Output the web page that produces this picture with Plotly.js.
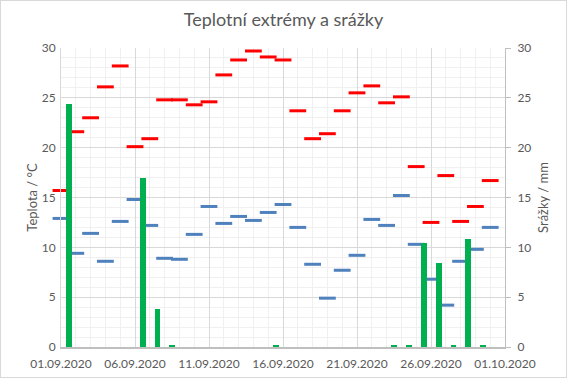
<!DOCTYPE html>
<html>
<head>
<meta charset="utf-8">
<script src="https://cdn.plot.ly/plotly-3.0.1.min.js"></script>
<style>
html,body{margin:0;padding:0;background:#fff;}
#chart{width:567px;height:378px;box-sizing:border-box;border:1px solid #d9d9d9;}
</style>
</head>
<body>
<div id="chart"></div>
<script>
const dates = ["2020-09-01","2020-09-02","2020-09-03","2020-09-04","2020-09-05","2020-09-06","2020-09-07","2020-09-08","2020-09-09","2020-09-10",
"2020-09-11","2020-09-12","2020-09-13","2020-09-14","2020-09-15","2020-09-16","2020-09-17","2020-09-18","2020-09-19","2020-09-20",
"2020-09-21","2020-09-22","2020-09-23","2020-09-24","2020-09-25","2020-09-26","2020-09-27","2020-09-28","2020-09-29","2020-09-30"];
const tMax = [15.7,21.6,23.0,26.1,28.2,20.1,20.9,24.8,24.8,24.3,24.6,27.3,28.8,29.7,29.1,28.8,23.7,20.9,21.4,23.7,25.5,26.2,24.5,25.1,18.1,12.5,17.2,12.6,14.1,16.7];
const tMin = [12.9,9.4,11.4,8.6,12.6,14.8,12.2,8.9,8.8,11.3,14.1,12.4,13.1,12.7,13.5,14.3,12.0,8.3,4.9,7.7,9.2,12.8,12.2,15.2,10.3,6.8,4.2,8.6,9.8,12.0];
const precip = [24.4,0,0,0,0,17.0,3.8,0.2,0,0,0,0,0,0,0.2,0,0,0,0,0,0,0,0.2,0.2,10.4,8.4,0.2,10.8,0.2,0];
const xTicksStart = "2020-09-01";
const xRange = ["2020-09-01","2020-10-01"];

const DAY = 86400000;
const fontFam = "Lato, 'Open Sans', sans-serif";
const grey = "#595959";

const traces = [
  {type:"bar", x:dates, y:precip, yaxis:"y2", marker:{color:"#00b050"},
   width:dates.map(()=>0.4*DAY), offset:0.32*DAY, name:"Srážky", hoverinfo:"skip"},
  {type:"scatter", mode:"markers", x:dates, y:tMax, name:"Max", cliponaxis:false,
   marker:{symbol:"line-ew", size:12, line:{color:"#ff0000", width:3}}},
  {type:"scatter", mode:"markers", x:dates, y:tMin, name:"Min", cliponaxis:false,
   marker:{symbol:"line-ew", size:12, line:{color:"#4f81bd", width:3}}}
];

const layout = {
  width:565, height:376,
  margin:{l:60, r:61, t:47, b:30},
  paper_bgcolor:"#fff", plot_bgcolor:"#fff",
  showlegend:false,
  font:{family:fontFam, color:grey, size:12},
  title:{text:"Teplotní extrémy a srážky", font:{family:fontFam, size:18, color:grey}, x:0.5, xanchor:"center", y:0.95, yanchor:"middle"},
  bargap:0,
  xaxis:{type:"date", range:xRange, tick0:xTicksStart, dtick:5*DAY, tickformat:"%d.%m.%Y",
    showgrid:true, gridcolor:"#d9d9d9", gridwidth:1,
    minor:{dtick:DAY, showgrid:true, gridcolor:"#f0f0f0", gridwidth:1},
    showline:true, linecolor:"#bfbfbf", linewidth:1.5, ticks:"", zeroline:false,
    ticklabelstandoff:5,
    tickfont:{size:12, color:grey}},
  yaxis:{range:[0,30], dtick:5, tick0:0, showgrid:true, gridcolor:"#d9d9d9",
    minor:{dtick:1, showgrid:true, gridcolor:"#f0f0f0"},
    showline:true, linecolor:"#d9d9d9", zeroline:false, ticks:"",
    title:{text:"Teplota / °C", font:{size:13, color:grey}, standoff:1},
    ticklabelstandoff:2,
    tickfont:{size:12, color:grey}},
  yaxis2:{range:[0,30], dtick:5, tick0:0, overlaying:"y", side:"right", showgrid:false,
    showline:true, linecolor:"#bfbfbf", ticks:"outside", ticklen:5, tickcolor:"#bfbfbf", zeroline:false,
    ticklabelstandoff:4,
    title:{text:"Srážky / mm", font:{size:13, color:grey}, standoff:8},
    tickfont:{size:12, color:grey}}
};

Plotly.newPlot("chart", traces, layout, {staticPlot:true, displayModeBar:false});
</script>
</body>
</html>
